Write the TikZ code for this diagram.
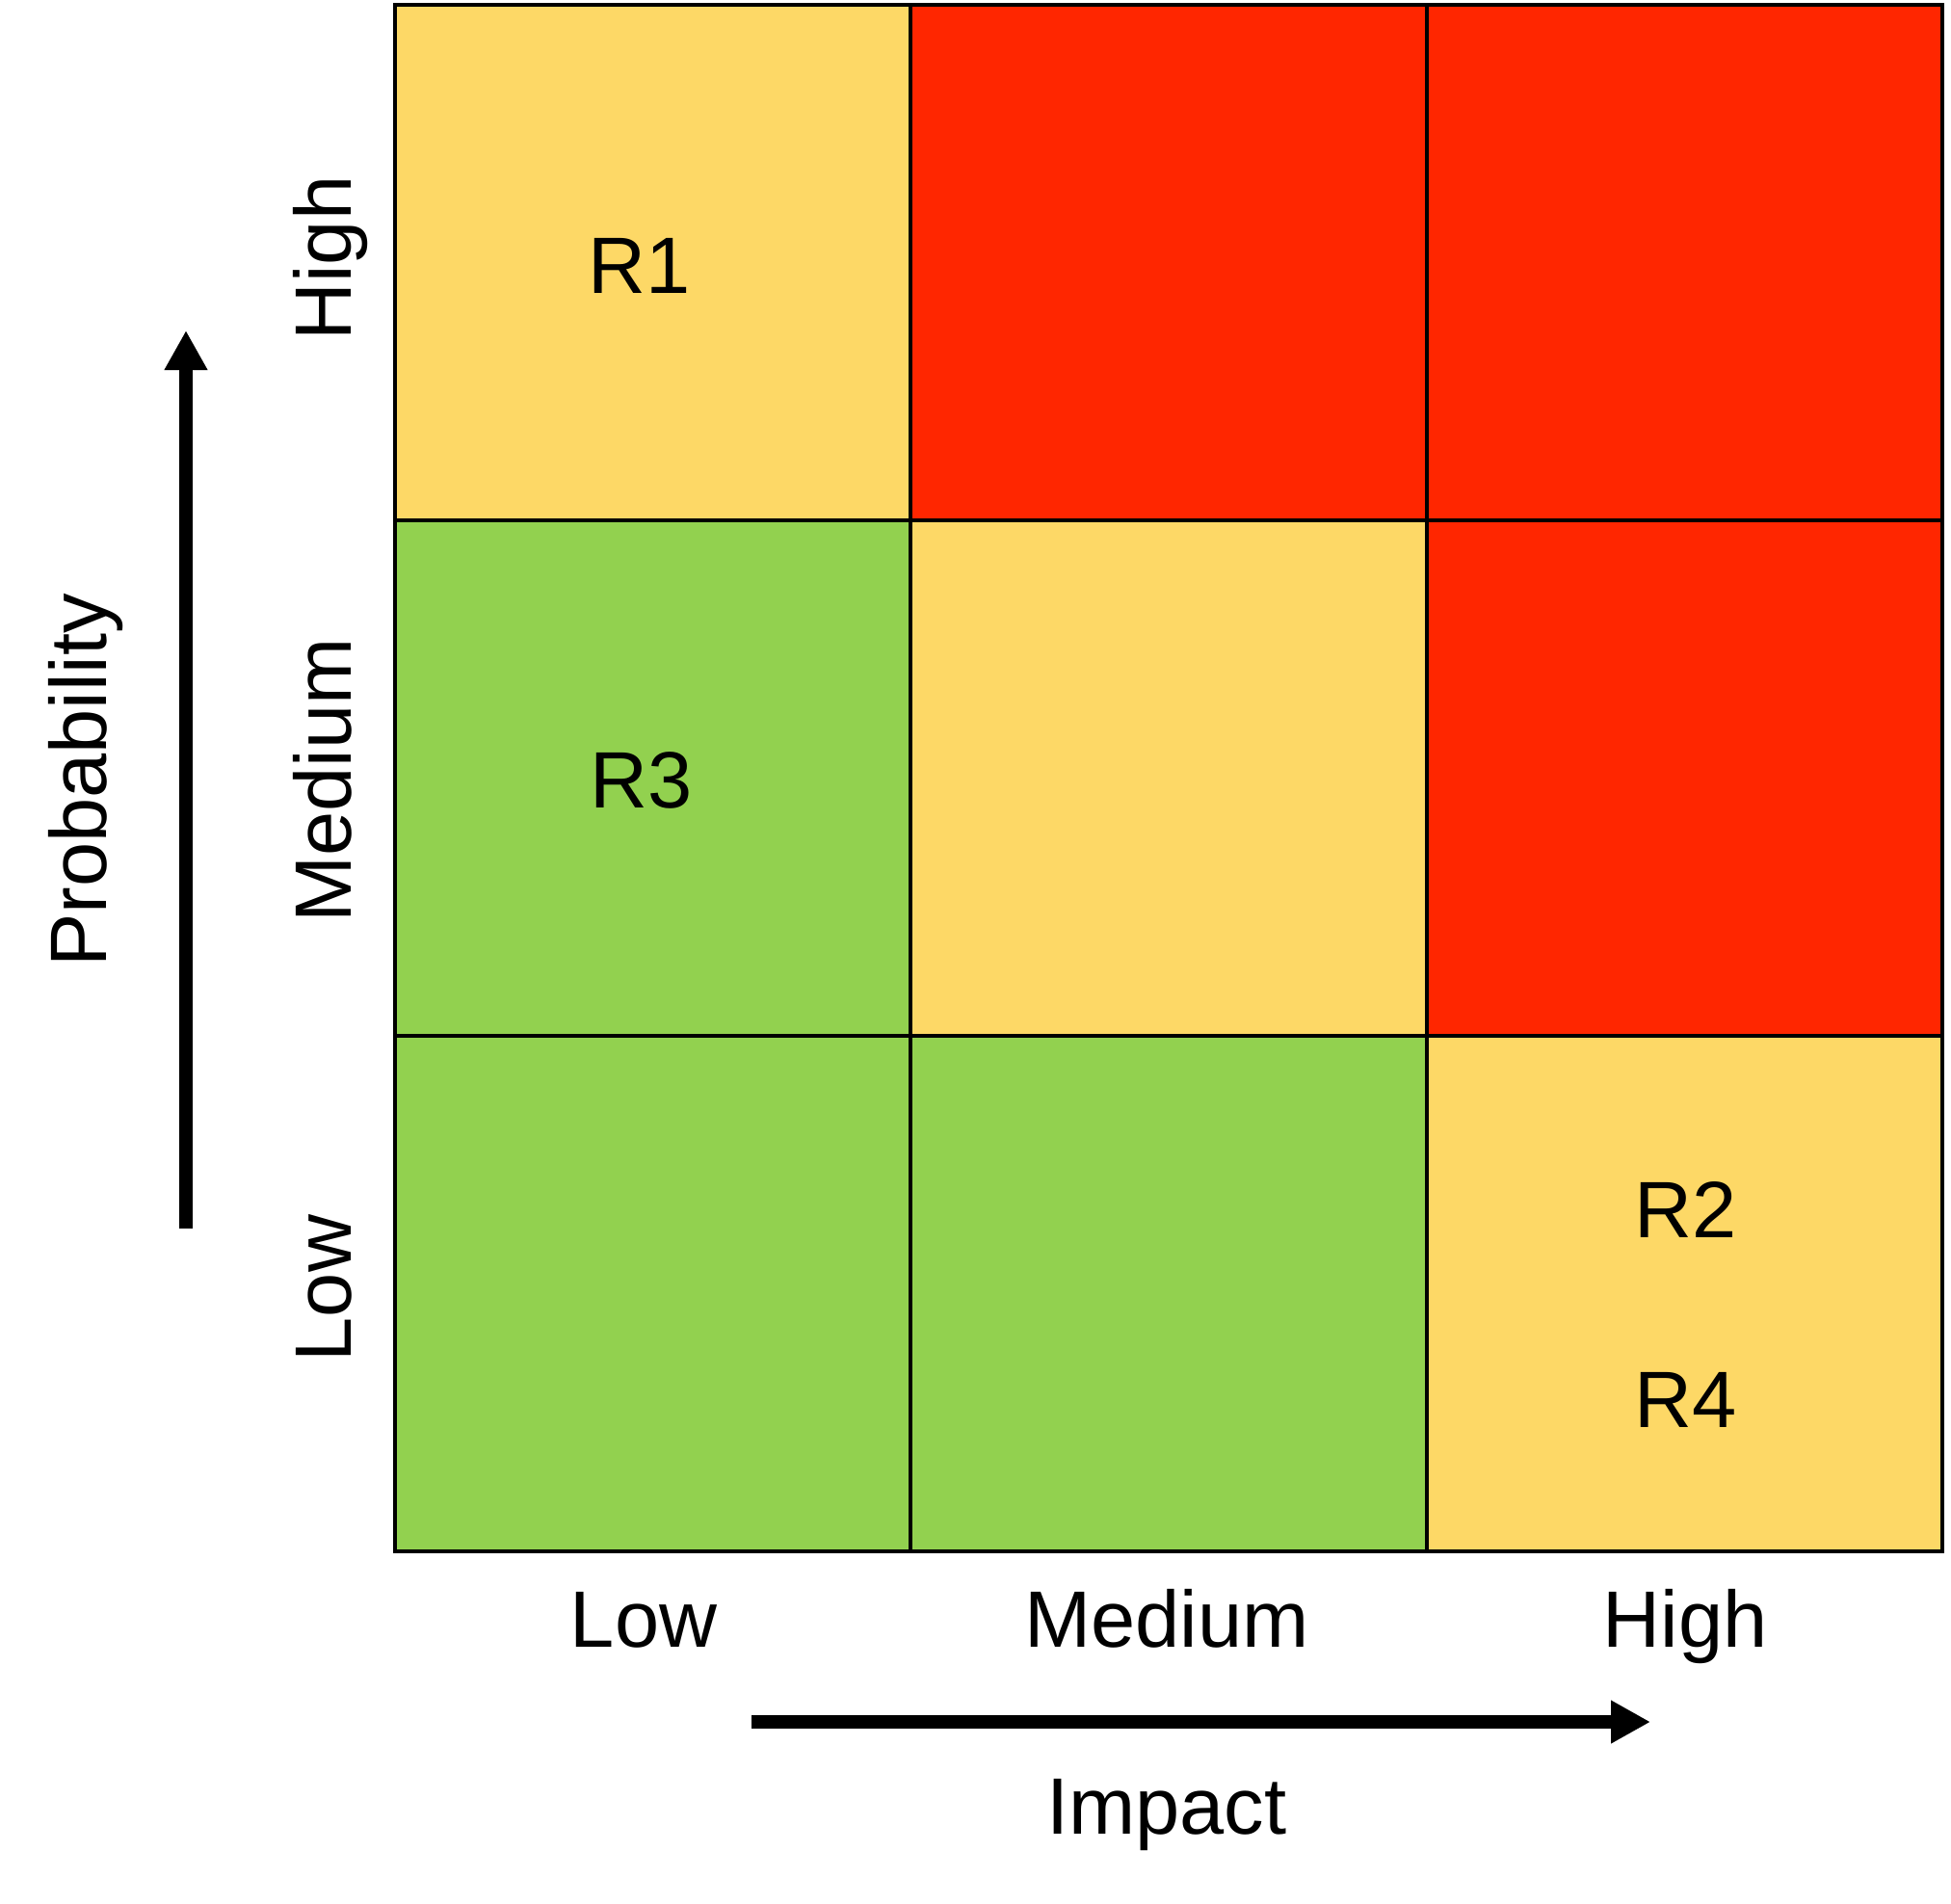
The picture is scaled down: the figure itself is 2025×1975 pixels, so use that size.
\documentclass[tikz,border=0pt]{standalone}
\usepackage{fontspec}
\setmainfont{Liberation Sans}
\usetikzlibrary{arrows.meta}
\definecolor{cyel}{RGB}{253,216,102}
\definecolor{cred}{RGB}{255,38,0}
\definecolor{cgrn}{RGB}{146,209,79}
\tikzset{
  cell/.style={draw=black, line width=1.2pt},
  lbl/.style={font=\fontsize{23.6}{28}\selectfont, inner sep=0pt},
  axarrow/.style={line width=4pt, -{Triangle[length=0.41cm,width=0.42cm]}},
}
\begin{document}
\begin{tikzpicture}[x=0.01cm,y=-0.01cm]
\useasboundingbox (0,0) rectangle (2025,1975);
% cells
\fill[cyel] (410,5) rectangle (945,540);
\fill[cred] (945,5) rectangle (1481,540);
\fill[cred] (1481,5) rectangle (2016,540);
\fill[cgrn] (410,540) rectangle (945,1075);
\fill[cyel] (945,540) rectangle (1481,1075);
\fill[cred] (1481,540) rectangle (2016,1075);
\fill[cgrn] (410,1075) rectangle (945,1610);
\fill[cgrn] (945,1075) rectangle (1481,1610);
\fill[cyel] (1481,1075) rectangle (2016,1610);
\draw[cell] (410,5) rectangle (2016,1610);
\draw[cell] (945,5) -- (945,1610);
\draw[cell] (1481,5) -- (1481,1610);
\draw[cell] (410,540) -- (2016,540);
\draw[cell] (410,1075) -- (2016,1075);
% risk labels
\node[lbl] (r1) at (664,276) {R1};
\node[lbl] (r3) at (666,810) {R3};
\node[lbl] (r2) at (1750,1255) {R2};
\node[lbl] (r4) at (1750,1453) {R4};
% impact labels
\node[lbl, anchor=base] (il) at (668,1709) {Low};
\node[lbl, anchor=base] (im) at (1211,1709) {Medium};
\node[lbl, anchor=base] (ih) at (1749,1709) {High};
\node[lbl, anchor=base] (imp) at (1211,1903) {Impact};
% probability labels
\node[lbl, rotate=90, anchor=base] (ph) at (364,268) {High};
\node[lbl, rotate=90, anchor=base] (pm) at (364,810) {Medium};
\node[lbl, rotate=90, anchor=base] (pl) at (364,1337) {Low};
\node[lbl, rotate=90, anchor=base] (prob) at (110,810) {Probability};
% arrows
\coordinate (va) at (193,1275);
\coordinate (vb) at (193,343);
\coordinate (ha) at (780,1787);
\coordinate (hb) at (1713,1787);
\draw[axarrow] (va) -- (vb);
\draw[axarrow] (ha) -- (hb);
\end{tikzpicture}
\end{document}
